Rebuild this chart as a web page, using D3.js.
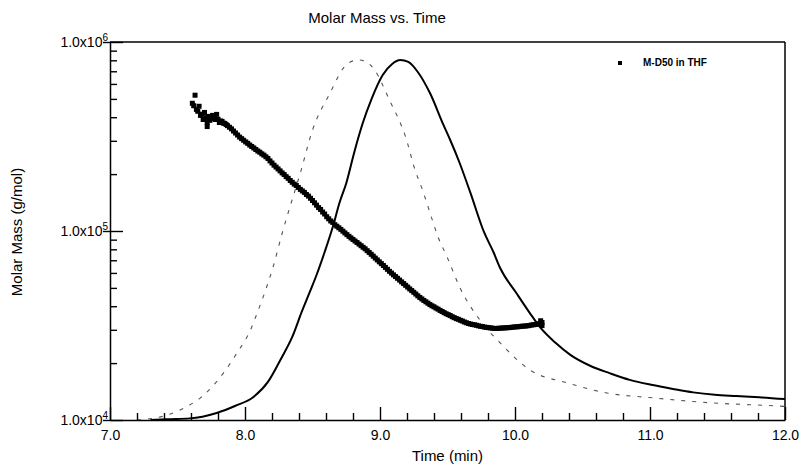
<!DOCTYPE html>
<html>
<head>
<meta charset="utf-8">
<script src="https://cdn.jsdelivr.net/npm/d3@7"></script>
<style>
  body { margin: 0; background: #fff; }
  svg { font-family: "Liberation Sans", Arial, sans-serif; }
</style>
</head>
<body>
<div id="chart"></div>
<script>
// Molar mass points (M-D50 in THF)
const scatterTime = [
  7.61, 7.62, 7.63, 7.64, 7.65, 7.66, 7.67, 7.68, 7.69, 7.70, 7.71, 7.72, 7.72, 7.73, 7.74, 7.75,
  7.76, 7.77, 7.78, 7.79, 7.80, 7.81, 7.82, 7.83, 7.84, 7.85, 7.86,
  7.870, 7.885, 7.900, 7.915, 7.930, 7.945, 7.960, 7.975, 7.990, 8.005, 8.020, 8.035, 8.050, 8.065,
  8.080, 8.095, 8.110, 8.125, 8.140, 8.155, 8.170, 8.185, 8.200, 8.215, 8.230, 8.245, 8.260, 8.275,
  8.290, 8.305, 8.320, 8.335, 8.350, 8.365, 8.380, 8.395, 8.410, 8.425, 8.440, 8.455, 8.470, 8.485,
  8.500, 8.515, 8.530, 8.545, 8.560, 8.575, 8.590, 8.605, 8.620, 8.635, 8.650, 8.665, 8.680, 8.695,
  8.710, 8.725, 8.740, 8.755, 8.770, 8.785, 8.800, 8.815, 8.830, 8.845, 8.860, 8.875, 8.890, 8.905,
  8.920, 8.935, 8.950, 8.965, 8.980, 8.995, 9.010, 9.025, 9.040, 9.055, 9.070, 9.085, 9.100, 9.115,
  9.130, 9.145, 9.160, 9.175, 9.190, 9.205, 9.220, 9.235, 9.250, 9.265, 9.280, 9.295, 9.310, 9.325,
  9.340, 9.355, 9.370, 9.385, 9.400, 9.415, 9.430, 9.445, 9.460, 9.475, 9.490, 9.505, 9.520, 9.535,
  9.550, 9.565, 9.580, 9.595, 9.610, 9.625, 9.640, 9.655, 9.670, 9.685, 9.700, 9.715, 9.730, 9.745,
  9.760, 9.775, 9.790, 9.805, 9.820, 9.835, 9.850, 9.865, 9.880, 9.895, 9.910, 9.925, 9.940, 9.955,
  9.970, 9.985, 10.000, 10.015, 10.030, 10.045, 10.060, 10.075, 10.090, 10.105, 10.120, 10.135,
  10.150, 10.165, 10.180, 10.190, 10.195, 10.200, 10.200
];
const scatterMass = [
  4.74e5, 4.60e5, 5.23e5, 4.40e5, 4.30e5, 4.57e5, 4.09e5, 4.15e5, 3.89e5, 4.24e5, 3.98e5, 3.75e5, 3.57e5, 4.04e5, 3.85e5, 3.94e5,
  4.09e5, 3.95e5, 3.89e5, 4.14e5, 3.90e5, 3.75e5, 3.82e5, 3.80e5, 3.72e5, 3.71e5, 3.66e5,
  3.61e5, 3.54e5, 3.47e5, 3.38e5, 3.30e5, 3.22e5, 3.14e5, 3.08e5, 3.02e5, 2.96e5, 2.91e5, 2.85e5, 2.80e5, 2.75e5,
  2.70e5, 2.65e5, 2.61e5, 2.56e5, 2.52e5, 2.47e5, 2.42e5, 2.35e5, 2.29e5, 2.23e5, 2.18e5, 2.13e5, 2.08e5, 2.03e5,
  1.99e5, 1.94e5, 1.90e5, 1.85e5, 1.81e5, 1.77e5, 1.74e5, 1.70e5, 1.66e5, 1.63e5, 1.60e5, 1.56e5, 1.53e5, 1.49e5,
  1.45e5, 1.41e5, 1.37e5, 1.33e5, 1.30e5, 1.26e5, 1.23e5, 1.19e5, 1.16e5, 1.13e5, 1.11e5, 1.08e5, 1.06e5, 1.04e5,
  1.02e5, 9.98e4, 9.77e4, 9.57e4, 9.37e4, 9.19e4, 9.02e4, 8.85e4, 8.69e4, 8.52e4, 8.36e4, 8.20e4, 8.05e4, 7.87e4,
  7.70e4, 7.53e4, 7.36e4, 7.19e4, 7.03e4, 6.87e4, 6.72e4, 6.57e4, 6.42e4, 6.27e4, 6.12e4, 5.99e4, 5.86e4, 5.74e4,
  5.62e4, 5.50e4, 5.38e4, 5.27e4, 5.16e4, 5.05e4, 4.94e4, 4.84e4, 4.74e4, 4.64e4, 4.54e4, 4.45e4, 4.37e4, 4.29e4,
  4.22e4, 4.15e4, 4.08e4, 4.02e4, 3.97e4, 3.91e4, 3.86e4, 3.80e4, 3.75e4, 3.70e4, 3.65e4, 3.61e4, 3.57e4, 3.52e4,
  3.48e4, 3.44e4, 3.41e4, 3.37e4, 3.34e4, 3.30e4, 3.27e4, 3.24e4, 3.22e4, 3.20e4, 3.19e4, 3.17e4, 3.15e4, 3.13e4,
  3.12e4, 3.10e4, 3.09e4, 3.08e4, 3.07e4, 3.06e4, 3.05e4, 3.05e4, 3.06e4, 3.06e4, 3.07e4, 3.07e4, 3.08e4, 3.08e4,
  3.09e4, 3.10e4, 3.11e4, 3.11e4, 3.12e4, 3.13e4, 3.14e4, 3.14e4, 3.15e4, 3.16e4, 3.18e4, 3.19e4,
  3.20e4, 3.21e4, 3.23e4, 3.35e4, 3.28e4, 3.16e4, 3.28e4
];

// Solid detector trace
const solidTime = [
  7.30, 7.42, 7.59, 7.79, 7.93, 8.06, 8.17, 8.27, 8.35, 8.42, 8.48, 8.53, 8.59, 8.65, 8.70, 8.75,
  8.81, 8.87, 8.94, 9.02, 9.09, 9.15, 9.21, 9.28, 9.37, 9.47, 9.52, 9.59, 9.67, 9.77, 9.84, 9.89,
  10.01, 10.11, 10.19, 10.30, 10.41, 10.56, 10.70, 10.85, 11.02, 11.17, 11.32, 11.48, 11.64, 11.81, 12.00
];
const solidMass = [
  1.00e4, 1.01e4, 1.02e4, 1.09e4, 1.19e4, 1.32e4, 1.59e4, 2.13e4, 2.75e4, 3.73e4, 4.76e4, 5.85e4, 7.74e4, 1.05e5, 1.41e5, 1.79e5,
  2.62e5, 3.68e5, 5.05e5, 6.69e5, 7.65e5, 8.03e5, 7.84e5, 6.94e5, 5.37e5, 3.64e5, 3.03e5, 2.29e5, 1.59e5, 9.88e4, 7.74e4, 6.37e4,
  4.70e4, 3.68e4, 3.07e4, 2.56e4, 2.21e4, 1.93e4, 1.77e4, 1.63e4, 1.53e4, 1.46e4, 1.40e4, 1.36e4, 1.34e4, 1.32e4, 1.29e4
];

// Dashed detector trace
const dashTime = [
  7.20, 7.27, 7.42, 7.52, 7.59, 7.67, 7.72, 7.84, 7.94, 8.04, 8.09, 8.15, 8.21, 8.28, 8.36, 8.41,
  8.50, 8.63, 8.73, 8.78, 8.84, 8.90, 8.96, 9.07, 9.19, 9.26, 9.32, 9.37, 9.43, 9.50, 9.59, 9.74,
  9.89, 10.11, 10.39, 10.68, 11.02, 11.47, 11.91, 12.00
];
const dashMass = [
  1.00e4, 1.01e4, 1.06e4, 1.13e4, 1.20e4, 1.31e4, 1.41e4, 1.77e4, 2.26e4, 2.99e4, 3.68e4, 4.81e4, 6.53e4, 1.00e5, 1.55e5, 2.03e5,
  3.42e5, 5.37e5, 7.29e5, 7.84e5, 8.03e5, 7.84e5, 7.11e5, 4.93e5, 3.14e5, 2.10e5, 1.61e5, 1.25e5, 9.30e4, 7.20e4, 5.05e4, 3.38e4,
  2.56e4, 1.84e4, 1.57e4, 1.39e4, 1.31e4, 1.23e4, 1.19e4, 1.18e4
];

// Axis ticks
const xMajorTicks = [7, 8, 9, 10, 11, 12];
const xMinorTicks = [7.2, 7.4, 7.6, 7.8, 8.2, 8.4, 8.6, 8.8, 9.2, 9.4, 9.6, 9.8,
                     10.2, 10.4, 10.6, 10.8, 11.2, 11.4, 11.6, 11.8];
const yMajorTicks = [1e4, 1e5, 1e6];
const yMajorExp = ["4", "5", "6"];

// Set dimensions and margins for the chart
const margin = { top: 42, right: 18, bottom: 46, left: 110 },
      width = 803 - margin.left - margin.right,
      height = 466 - margin.top - margin.bottom;

const svgRoot = d3.select("#chart")
  .append("svg")
    .attr("width", 803)
    .attr("height", 466);

const svg = svgRoot.append("g")
    .attr("transform", `translate(${margin.left},${margin.top})`);

// Scales
const x = d3.scaleLinear().domain([7, 12]).range([0, width]);
const y = d3.scaleLog().domain([1e4, 1e6]).range([height, 0]);

// Y minor ticks (2..9 x 10^k)
const yMinorTicks = [];
[1e4, 1e5].forEach(d => { for (let k = 2; k <= 9; k++) yMinorTicks.push(d * k); });

const line = d3.line()
  .x(d => x(d[0]))
  .y(d => y(Math.max(d[1], 1e4)))
  .curve(d3.curveMonotoneX);

// Dashed trace
svg.append("path")
  .datum(dashTime.map((t, i) => [t, dashMass[i]]))
  .attr("fill", "none")
  .attr("stroke", "#555")
  .attr("stroke-width", 1.1)
  .attr("stroke-dasharray", "4,7")
  .attr("d", line);

// Solid trace
svg.append("path")
  .datum(solidTime.map((t, i) => [t, solidMass[i]]))
  .attr("fill", "none")
  .attr("stroke", "#000")
  .attr("stroke-width", 2)
  .attr("d", line);

// Molar mass points
const sq = 5;
svg.selectAll("rect.pt")
  .data(scatterTime.map((t, i) => [t, scatterMass[i]]))
  .enter()
  .append("rect")
  .attr("class", "pt")
  .attr("x", d => x(d[0]) - sq / 2)
  .attr("y", d => y(d[1]) - sq / 2)
  .attr("width", sq)
  .attr("height", sq)
  .attr("fill", "#000");

// X axis: minor then major ticks, pointing inward
svg.append("g")
  .attr("transform", `translate(0,${height})`)
  .call(d3.axisBottom(x).tickValues(xMinorTicks).tickSize(-7).tickFormat(""))
  .call(g => g.select(".domain").remove());

const xAxis = svg.append("g")
  .attr("transform", `translate(0,${height})`)
  .call(d3.axisBottom(x).tickValues(xMajorTicks).tickSize(-13).tickSizeOuter(0)
        .tickPadding(10).tickFormat(d3.format(".1f")));
xAxis.selectAll("text").style("font-size", "14px").attr("fill", "#000");

// Y axis: minor then major ticks, pointing inward
svg.append("g")
  .call(d3.axisLeft(y).tickValues(yMinorTicks).tickSize(-7).tickFormat(""))
  .call(g => g.select(".domain").remove());

const yAxis = svg.append("g")
  .call(d3.axisLeft(y).tickValues(yMajorTicks).tickSize(-13).tickSizeOuter(0)
        .tickPadding(4).tickFormat(() => ""));
yAxis.selectAll(".tick").append("line").attr("x1", -7).attr("x2", 0);
yAxis.selectAll(".tick").each(function(d, i) {
  const t = d3.select(this).select("text")
    .attr("x", -2)
    .attr("dy", "0.35em")
    .style("font-size", "14px")
    .attr("fill", "#000");
  t.append("tspan").text("1.0x10");
  t.append("tspan").attr("dy", "-6").style("font-size", "10px").text(yMajorExp[i]);
});

svg.selectAll(".domain").attr("stroke", "#000").attr("stroke-width", 1.5);
svg.selectAll(".tick line").attr("stroke", "#000").attr("stroke-width", 1.4);

// Frame: top and right borders
svg.append("line").attr("x1", 0).attr("x2", width).attr("y1", 0).attr("y2", 0)
  .attr("stroke", "#000").attr("stroke-width", 1.5);
svg.append("line").attr("x1", width).attr("x2", width).attr("y1", 0).attr("y2", height)
  .attr("stroke", "#000").attr("stroke-width", 1.5);

// Legend
svg.append("rect")
  .attr("x", 620 - margin.left - 2).attr("y", 63 - margin.top - 2)
  .attr("width", 4).attr("height", 4).attr("fill", "#000");
svg.append("text")
  .attr("x", 643 - margin.left).attr("y", 66 - margin.top)
  .style("font-size", "10px").style("font-weight", "bold")
  .text("M-D50 in THF");

// Title and axis labels
svgRoot.append("text")
  .attr("x", 377).attr("y", 23)
  .attr("text-anchor", "middle")
  .style("font-size", "15px")
  .text("Molar Mass vs. Time");

svgRoot.append("text")
  .attr("x", margin.left + width / 2).attr("y", 461)
  .attr("text-anchor", "middle")
  .style("font-size", "15px")
  .text("Time (min)");

svgRoot.append("text")
  .attr("transform", `translate(22,232) rotate(-90)`)
  .attr("text-anchor", "middle")
  .style("font-size", "15px")
  .text("Molar Mass (g/mol)");
</script>
</body>
</html>
